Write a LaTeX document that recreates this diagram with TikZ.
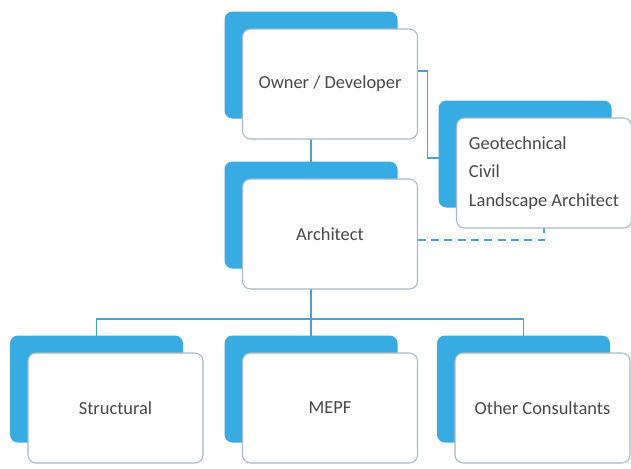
\documentclass[tikz,border=0pt]{standalone}
\usepackage{fontspec}
\setmainfont{Carlito}
\usetikzlibrary{backgrounds,calc}

\definecolor{tileblue}{RGB}{56,171,226}
\definecolor{linkblue}{RGB}{72,162,214}
\definecolor{edgegray}{RGB}{165,185,200}
\definecolor{labelgray}{RGB}{72,72,72}

\tikzset{
  backbox/.style={fill=tileblue, rounded corners=6pt, minimum width=129.75pt,
    minimum height=80.25pt, inner sep=0pt, outer sep=0pt},
  frontbox/.style={fill=white, draw=edgegray, line width=0.8pt, rounded corners=6pt,
    minimum width=131.25pt, minimum height=82.5pt, inner sep=0pt, outer sep=0pt,
    font=\fontsize{13.8}{21.4}\selectfont, text=labelgray, align=center},
  link/.style={draw=linkblue, line width=1pt},
}

% a white card lying over a blue card shifted up and to the left
\newcommand\tiledbox[5][]{%
  \node[backbox] (#2b) at (#3-19,#4-19) {};
  \node[frontbox,#1] (#2) at (#3,#4) {#5};}

\begin{document}
\begin{tikzpicture}[x=0.75pt,y=-0.75pt]
  \useasboundingbox (0,0) rectangle (631,468);

  \tiledbox{owner}{330}{84}{Owner / Developer}
  \tiledbox{arch}{330}{234}{Architect}
  \tiledbox[align=left]{geo}{544}{173}{Geotechnical\\Civil\\Landscape Architect}
  \tiledbox{struct}{115.5}{408}{Structural}
  \tiledbox{mepf}{330}{408}{MEPF}
  \tiledbox{other}{542.5}{408}{Other Consultants}

  \coordinate (bus) at (0,319);

  \begin{scope}[on background layer]
    \draw[link] (ownerb.south) -- (archb.north);
    \draw[link] ($(ownerb.east)+(0,6)$) -- ++(30,0) |- ($(geob.west)+(0,4)$);
    \draw[link, dashed, dash pattern=on 6pt off 4pt] ($(arch.east)+(0,6)$) -| (geo.south);
    \draw[link] (archb.south) -- (mepfb.north);
    \draw[link] (structb.north) |- (mepfb.north |- bus) -| (otherb.north);
  \end{scope}
\end{tikzpicture}
\end{document}
